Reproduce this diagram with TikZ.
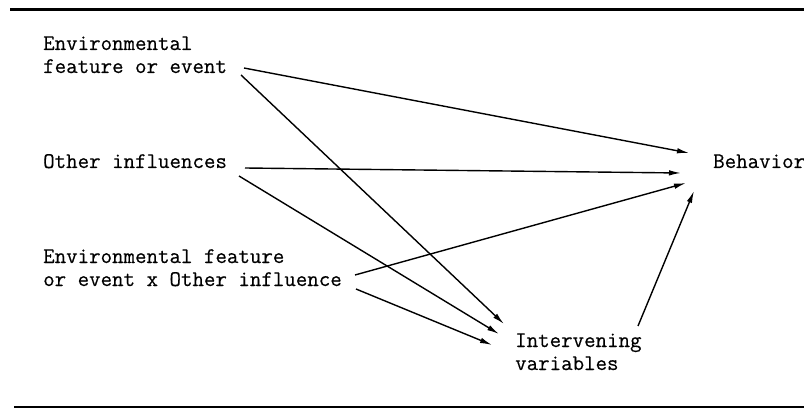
\documentclass[tikz,border=0pt]{standalone}
\usepackage{fontspec}
\newfontfamily\typewriter{Latin Modern Mono}[FakeBold=0.4]
\usetikzlibrary{arrows.meta}

\begin{document}
\begin{tikzpicture}[x=1pt,y=-1pt,
  lbl/.style={font=\typewriter\fontsize{22.3}{23}\selectfont, inner sep=0pt, align=left, anchor=base west},
  link/.style={line width=1.4pt, -{Latex[length=12pt,width=5.5pt]}},
  rule/.style={line width=2.2pt}]
\useasboundingbox (0,0) rectangle (804,409);

% horizontal rules framing the figure
\draw[rule] (10,9.5) -- (804,9.5);
\draw[rule, line width=1.6pt] (14,407) -- (804,407);

% labels (anchored at the baseline of their last line)
\node[lbl] (env)   at (43,73)  {Environmental\\feature or event};
\node[lbl] (other) at (43,168) {Other influences};
\node[lbl] (inter) at (43,286) {Environmental feature\\or event x Other influence};
\node[lbl] (beh)   at (713,168) {Behavior};
\node[lbl] (iv)    at (515,370) {Intervening\\variables};

% connector end points around the labels
\coordinate (env-b)   at (244,68);
\coordinate (env-i)   at (241,75);
\coordinate (oth-b)   at (245,168);
\coordinate (oth-i)   at (239,176);
\coordinate (int-b)   at (355,275);
\coordinate (int-i)   at (356,289);
\coordinate (iv-out)  at (638,326);
\coordinate (beh-1)   at (689,153);
\coordinate (beh-2)   at (681,173);
\coordinate (beh-3)   at (686,183);
\coordinate (beh-4)   at (694,191);
\coordinate (iv-1)    at (504,324);
\coordinate (iv-2)    at (499,334);
\coordinate (iv-3)    at (492,345);

% arrows
\draw[link] (env-b) -- (beh-1);
\draw[link] (env-i) -- (iv-1);
\draw[link] (oth-b) -- (beh-2);
\draw[link] (oth-i) -- (iv-2);
\draw[link] (int-b) -- (beh-3);
\draw[link] (int-i) -- (iv-3);
\draw[link] (iv-out) -- (beh-4);
\end{tikzpicture}
\end{document}
